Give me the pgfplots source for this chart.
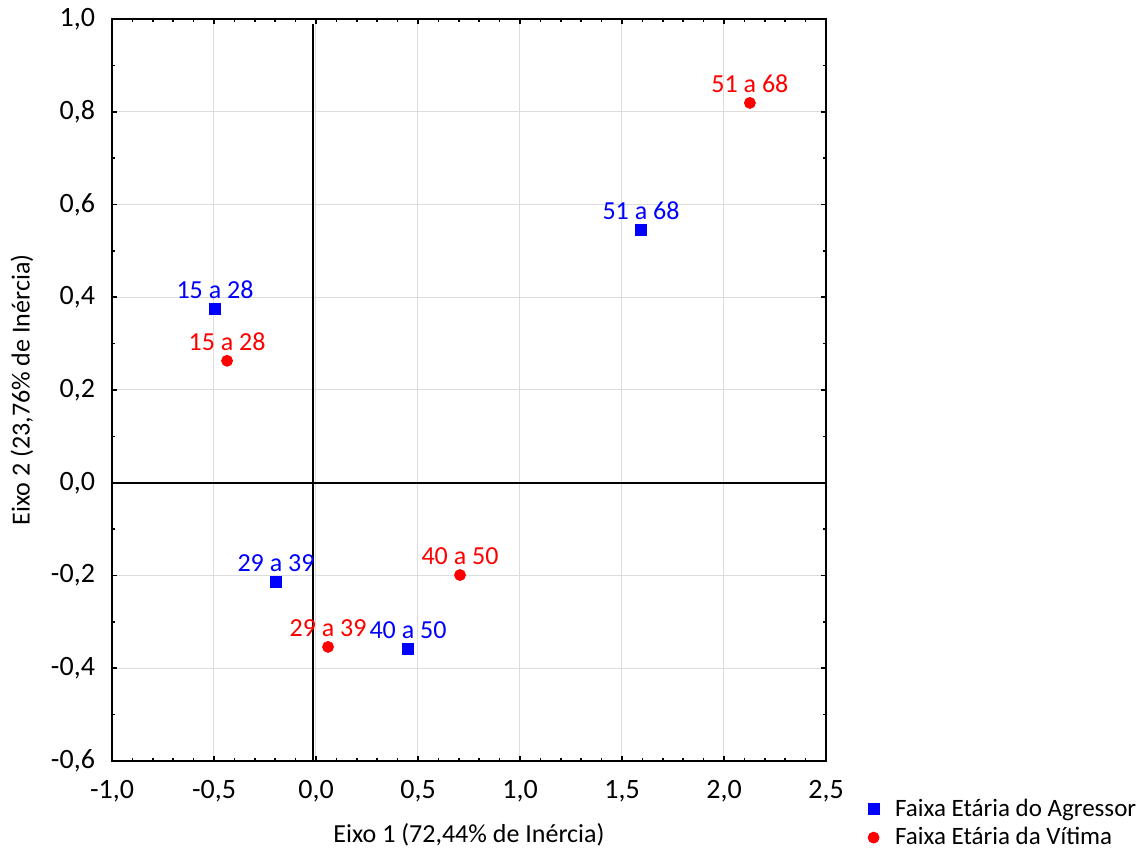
\documentclass[border=0pt]{standalone}
\usepackage{pgfplots}
\pgfplotsset{compat=1.18}
\usepackage{fontspec}
\setmainfont{Carlito}

\definecolor{gridgray}{RGB}{220,220,220}

\begin{document}
\begin{tikzpicture}
\begin{axis}[
    scale only axis,
    width=357pt, height=371pt,
    xmin=-1, xmax=2.5, ymin=-0.6, ymax=1,
    xtick={-1,-0.5,...,2.5},
    ytick={-0.6,-0.4,...,1.0},
    minor x tick num=4,
    minor y tick num=1,
    tick align=inside,
    tick pos=both,
    major tick length=2.5pt,
    minor tick length=1.5pt,
    every tick/.style={black, line width=0.8pt},
    axis line style={line width=1.2pt},
    grid=major,
    major grid style={gridgray, line width=0.5pt},
    /pgf/number format/.cd, use comma, fixed, fixed zerofill, precision=1, assume math mode=true,
    /pgfplots/.cd,
    ticklabel style={font=\fontsize{14}{16}\selectfont},
    xticklabel style={yshift=-6pt},
    yticklabel style={xshift=-5pt},
    xlabel={Eixo 1 (72,44\% de Inércia)},
    ylabel={Eixo 2 (23,76\% de Inércia)},
    label style={font=\fontsize{13}{15}\selectfont},
    xlabel style={at={(0.5,-0.1)}, anchor=center},
    ylabel style={at={(-0.126,0.5)}, anchor=center},
    legend style={at={(1.05,-0.04)}, anchor=north west, draw=none, fill=none,
        font=\fontsize{12.5}{14}\selectfont, row sep=0pt},
    legend cell align=left,
    nodes near coords,
    point meta=explicit symbolic,
    clip=false,
]
\coordinate (bl) at (rel axis cs:0,0);
\coordinate (tr) at (rel axis cs:1,1);
\draw[black, line width=1pt] (axis cs:-0.015,-0.6) -- (axis cs:-0.015,0.989);
\draw[black, line width=1pt] (axis cs:-1,0) -- (axis cs:2.5,0);

\addplot[only marks, mark=square*, mark size=2.75pt, color=blue,
    every node near coord/.style={text=blue, anchor=south, inner sep=1pt,
        yshift=4pt, font=\fontsize{13}{15}\selectfont}]
coordinates {
    (-0.495,0.375) [15 a 28]
    (1.593,0.545) [51 a 68]
    (-0.196,-0.214) [29 a 39]
    (0.451,-0.358) [40 a 50]
};
\addlegendentry{\hspace{6pt}Faixa Etária do Agressor}

\addplot[only marks, mark=*, mark size=2.75pt, color=red,
    every node near coord/.style={text=red, anchor=south, inner sep=1pt,
        yshift=4pt, font=\fontsize{13}{15}\selectfont}]
coordinates {
    (2.127,0.819) [51 a 68]
    (-0.436,0.263) [15 a 28]
    (0.706,-0.199) [40 a 50]
    (0.059,-0.354) [29 a 39]
};
\addlegendentry{\hspace{6pt}Faixa Etária da Vítima}
\end{axis}
\pgfresetboundingbox
\path ([shift={(-56pt,-44.5pt)}]bl) rectangle ([shift={(160pt,9.5pt)}]tr);
\end{tikzpicture}
\end{document}
